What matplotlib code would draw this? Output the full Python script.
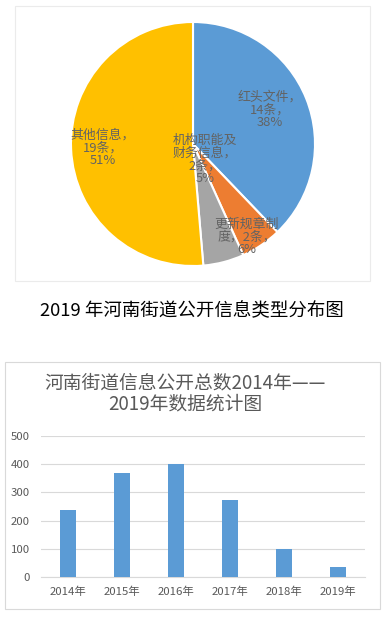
import matplotlib
matplotlib.use("Agg")
import matplotlib.pyplot as plt
from matplotlib.patches import Rectangle
import numpy as np

plt.rcParams['font.family'] = ['Noto Sans CJK SC', 'DejaVu Sans']

# ---- data ----
pie_names = ["红头文件", "更新规章制度", "机构职能及财务信息", "其他信息"]
pie_counts = [14, 2, 2, 19]
pie_pcts = ["38%", "6%", "5%", "51%"]
pie_label_texts = ["红头文件，\n14条，\n38%", "更新规章制\n度，2条，\n6%",
                   "机构职能及\n财务信息，\n2条，\n5%", "其他信息，\n19条，\n51%"]
pie_colors = ["#5B9BD5", "#ED7D31", "#A5A5A5", "#FFC000"]

years = ["2014年", "2015年", "2016年", "2017年", "2018年", "2019年"]
totals = [238, 369, 401, 273, 99, 35]
yticks = [0, 100, 200, 300, 400, 500]

pie_caption = "2019 年河南街道公开信息类型分布图"
bar_title = "河南街道信息公开总数2014年——\n2019年数据统计图"

W, H = 391, 622
fig = plt.figure(figsize=(W / 100, H / 100), dpi=100)
fig.patch.set_facecolor("white")

def fx(px):
    return px / W

def fy(py):
    return 1 - py / H

# frames
fig.patches.append(Rectangle((fx(15), fy(281)), fx(355), (281 - 6) / H,
                             transform=fig.transFigure, fill=False,
                             edgecolor="#EBEBEB", linewidth=0.8))
fig.patches.append(Rectangle((fx(5), fy(609)), fx(375), (609 - 362) / H,
                             transform=fig.transFigure, fill=False,
                             edgecolor="#D9D9D9", linewidth=0.8))

# ---- pie ----
cx, cy, r = 193, 144, 122
axp = fig.add_axes([fx(cx - r), fy(cy + r), 2 * r / W, 2 * r / H])
wedges, _ = axp.pie(pie_counts, colors=pie_colors, startangle=90, counterclock=False,
                    wedgeprops=dict(edgecolor="white", linewidth=1.5), radius=1)
axp.set_xlim(-1, 1)
axp.set_ylim(-1, 1)
axp.set_aspect("auto")
axp.axis("off")

# label placement (distance, angle shift) per wedge
label_dist = [0.69, 0.88, 0.16, 0.74]
label_shift = [2, -4, 24, 0]
for w, txt, d, s in zip(wedges, pie_label_texts, label_dist, label_shift):
    mid = np.deg2rad((w.theta1 + w.theta2) / 2 + s)
    axp.text(d * np.cos(mid), d * np.sin(mid), txt, ha="center", va="center",
             fontsize=9.3, color="#636363", linespacing=0.98)

fig.text(fx(192), fy(311), pie_caption, ha="center", va="center",
         fontsize=13.3, color="black")

# ---- bar ----
axb = fig.add_axes([fx(41), fy(577), (365 - 41) / W, (577 - 436) / H])
x = np.arange(len(years))
axb.bar(x, totals, width=0.31, color="#5B9BD5", zorder=3)
axb.set_xlim(-0.5, len(years) - 0.5)
axb.set_ylim(0, 500)
axb.set_yticks(yticks)
axb.set_xticks(x)
axb.set_xticklabels(years)
axb.grid(axis="y", color="#D9D9D9", linewidth=0.8, zorder=0)
for sp in ["top", "right", "left"]:
    axb.spines[sp].set_visible(False)
axb.spines["bottom"].set_color("#D9D9D9")
axb.tick_params(axis="both", length=0, colors="#595959", labelsize=8.2)
axb.tick_params(axis="y", pad=8)
axb.tick_params(axis="x", pad=7)

fig.text(fx(185), fy(393), bar_title, ha="center", va="center",
         fontsize=13.5, color="#595959", linespacing=1.0)

fig.savefig("out.png", dpi=100)
